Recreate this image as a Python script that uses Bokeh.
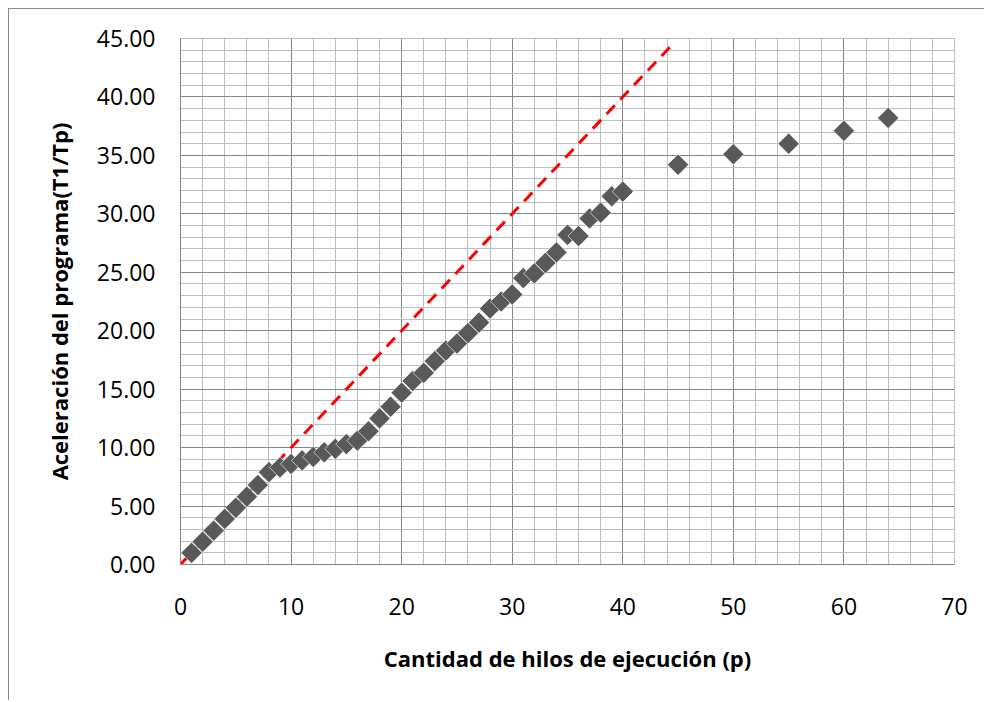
import math
from bokeh.plotting import figure
from bokeh.models import Range1d, SingleIntervalTicker, NumeralTickFormatter
from bokeh.embed import file_html
from bokeh.resources import INLINE

# Data
threads = list(range(1, 41)) + [45, 50, 55, 60, 64]
speedup = [1.0, 1.95, 2.9, 3.9, 4.85, 5.8, 6.8, 7.9, 8.3, 8.6,
           8.9, 9.2, 9.6, 9.9, 10.3, 10.6, 11.4, 12.5, 13.5, 14.7,
           15.7, 16.4, 17.4, 18.3, 18.9, 19.8, 20.7, 21.9, 22.5, 23.1,
           24.5, 24.9, 25.8, 26.7, 28.2, 28.1, 29.6, 30.1, 31.5, 31.9,
           34.2, 35.1, 36.0, 37.1, 38.2]
ideal_x = [0, 44.5]
ideal_y = [0, 44.5]

FONT = "Open Sans"

p = figure(width=976, height=692, output_backend="svg", toolbar_location=None,
           x_range=Range1d(0, 70), y_range=Range1d(0, 45),
           min_border_left=171, min_border_top=29, min_border_right=31, min_border_bottom=137,
           background_fill_color="white", border_fill_color="white")
p.styles = {"margin-left": "8px", "margin-top": "8px",
            "border-top": "1px solid #8c8c8c", "border-left": "1px solid #8c8c8c"}

p.xaxis.ticker = SingleIntervalTicker(interval=10, num_minor_ticks=5)
p.yaxis.ticker = SingleIntervalTicker(interval=5, num_minor_ticks=5)
p.yaxis.formatter = NumeralTickFormatter(format="0.00")

for ax in (p.xaxis[0], p.yaxis[0]):
    ax.major_tick_out = 0
    ax.major_tick_in = 0
    ax.minor_tick_out = 0
    ax.minor_tick_in = 0
    ax.axis_line_color = "#868686"
    ax.axis_line_width = 1
    ax.major_label_text_font = FONT
    ax.major_label_text_font_size = "23px"
    ax.major_label_text_color = "black"
    ax.axis_label_text_font = FONT
    ax.axis_label_text_font_size = "22px"
    ax.axis_label_text_font_style = "bold"
    ax.axis_label_text_color = "black"

p.xaxis.axis_label = "Cantidad de hilos de ejecución (p)"
p.yaxis.axis_label = "Aceleración del programa(T1/Tp)"
p.xaxis.major_label_standoff = 33
p.xaxis.axis_label_standoff = 25
p.yaxis.major_label_standoff = 25
p.yaxis.axis_label_standoff = 20

for g in (p.xgrid[0], p.ygrid[0]):
    g.grid_line_color = "#868686"
    g.grid_line_width = 1
    g.minor_grid_line_color = "#bdbdbd"
    g.minor_grid_line_width = 1

p.outline_line_color = "#bdbdbd"
p.outline_line_width = 1

p.line(ideal_x, ideal_y, line_color="red", line_width=3, line_dash="12 8")
p.scatter(threads, speedup, marker="square", size=15, angle=math.pi / 4,
          fill_color="#595959", line_color="white", line_width=0.6)

open("out.html", "w").write(file_html(p, INLINE))
